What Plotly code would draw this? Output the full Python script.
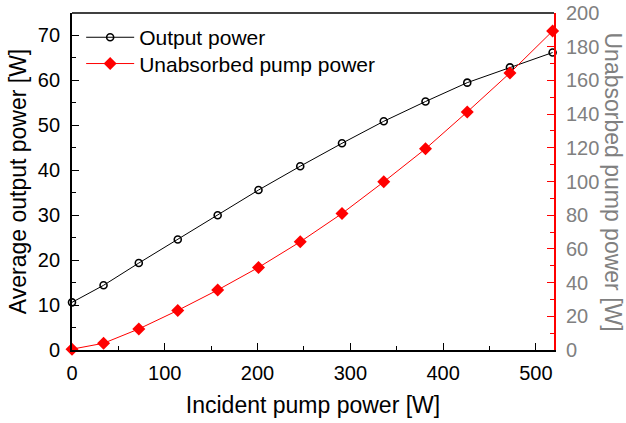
import plotly.graph_objects as go

incident_pump = [0, 34, 72, 114, 157, 201, 246, 291, 336, 381, 426, 472, 518]
output_power = [10.6, 14.4, 19.35, 24.6, 30.0, 35.6, 40.9, 46.0, 50.9, 55.3, 59.5, 62.9, 66.2]
unabsorbed_pump = [0.5, 4.0, 12.5, 23.5, 35.6, 49.0, 64.2, 81.0, 99.8, 119.4, 141.3, 164.4, 189.3]

FONT = "Liberation Sans, Arial, Helvetica, sans-serif"
GREY = "#808080"

fig = go.Figure()
fig.add_trace(go.Scatter(
    x=incident_pump, y=output_power, name="Output power",
    mode="lines+markers", line=dict(color="black", width=1),
    marker=dict(symbol="circle-open", size=7, color="black", line=dict(width=1.6)),
    cliponaxis=False, legend="legend",
))
fig.add_trace(go.Scatter(
    x=incident_pump, y=unabsorbed_pump, name="Unabsorbed pump power",
    mode="lines+markers", line=dict(color="red", width=1),
    marker=dict(symbol="diamond", size=10, color="red"),
    yaxis="y2", cliponaxis=False, legend="legend2",
))

leg_common = dict(xanchor="left", yanchor="middle", bgcolor="rgba(0,0,0,0)",
                  font=dict(size=21), itemwidth=48)

fig.update_layout(
    width=626, height=423,
    margin=dict(l=72, r=72, t=13, b=73, autoexpand=False),
    paper_bgcolor="white", plot_bgcolor="white",
    font=dict(family=FONT, color="black", size=20),
    showlegend=True,
    legend=dict(x=0.019, y=0.927, **leg_common),
    legend2=dict(x=0.019, y=0.849, **leg_common),
    xaxis=dict(
        range=[0, 519.5], dtick=100, tick0=0, automargin=False,
        ticks="inside", ticklen=7, tickwidth=1.3, tickcolor="black",
        minor=dict(ticks="inside", ticklen=4, dtick=50, tickcolor="black", tickwidth=1.3),
        showline=True, linecolor="black", linewidth=1.8,
        showgrid=False, zeroline=False,
        tickfont=dict(size=20, color="black"),
        ticklabelstandoff=4,
        title=dict(text="Incident pump power [W]", font=dict(size=23), standoff=14),
    ),
    yaxis=dict(
        range=[0, 75], dtick=10, tick0=0, automargin=False,
        ticks="inside", ticklen=7, tickwidth=1.3, tickcolor="black",
        minor=dict(ticks="inside", ticklen=4, dtick=5, tickcolor="black", tickwidth=1.3),
        showline=True, linecolor="black", linewidth=1.8,
        showgrid=False, zeroline=False,
        tickfont=dict(size=20, color="black"),
        ticklabelstandoff=6,
        title=dict(text="Average output power [W]", font=dict(size=23), standoff=5),
    ),
    yaxis2=dict(
        overlaying="y", side="right", range=[0, 200], dtick=20, tick0=0, automargin=False,
        ticks="inside", ticklen=7, tickwidth=1.3, tickcolor="red",
        minor=dict(ticks="inside", ticklen=4, dtick=10, tickcolor="red", tickwidth=1.3),
        showline=True, linecolor="red", linewidth=1.8,
        showgrid=False, zeroline=False,
        tickfont=dict(size=20, color=GREY),
        ticklabelstandoff=6,
    ),
    shapes=[dict(type="line", xref="paper", yref="paper", x0=0, x1=1, y0=1, y1=1,
                 line=dict(color="#404040", width=1.8))],
    annotations=[dict(text="Unabsorbed pump power [W]", xref="paper", yref="paper",
                      x=1.0, xshift=59, xanchor="center", y=0.5, yanchor="middle",
                      textangle=90, showarrow=False,
                      font=dict(size=23, color=GREY, family=FONT))],
)

fig.write_html("out.html", config={"displayModeBar": False},
               post_script="document.body.style.margin='0';document.body.style.overflow='hidden';")
